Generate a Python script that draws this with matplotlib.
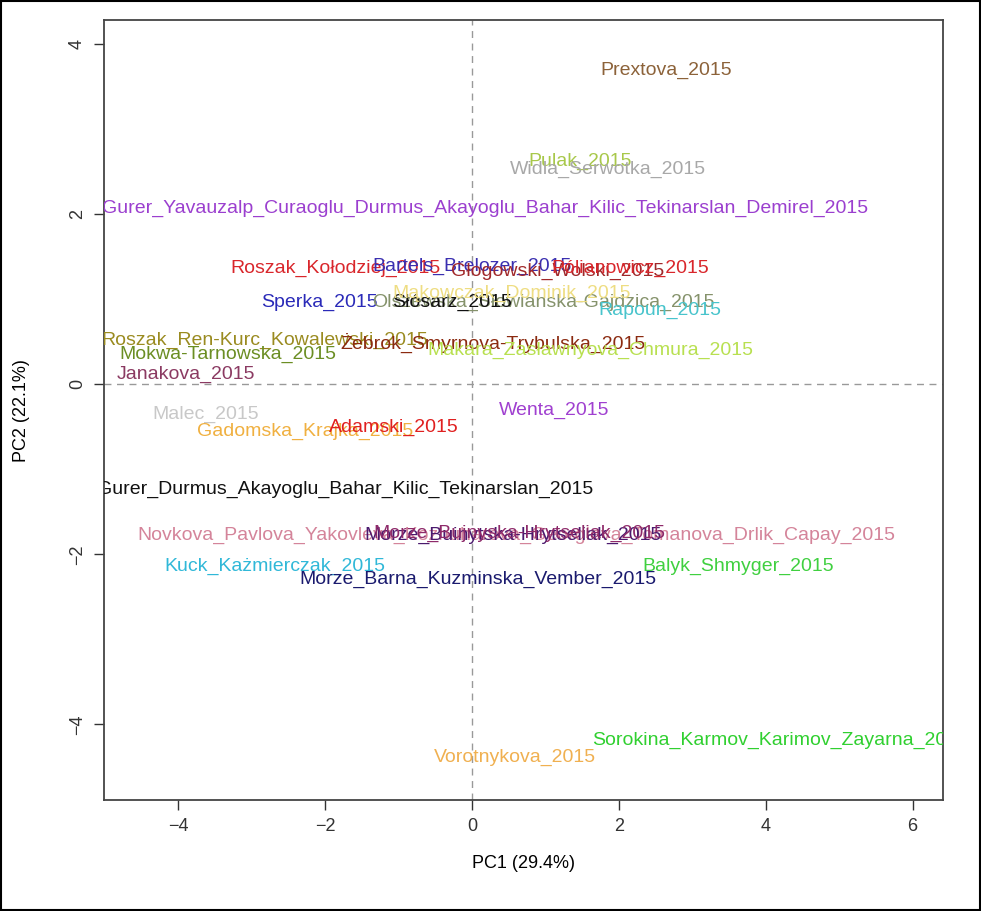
import matplotlib
matplotlib.use("Agg")
import matplotlib.pyplot as plt

plt.rcParams['font.family'] = ['Liberation Sans', 'DejaVu Sans']

# PCA scores (label centres)
labels = [
    "Prextova_2015",
    "Pulak_2015",
    "Widla_Serwotka_2015",
    "Gurer_Yavauzalp_Curaoglu_Durmus_Akayoglu_Bahar_Kilic_Tekinarslan_Demirel_2015",
    "Roszak_Kołodziej_2015",
    "Bartels_Brelozer_2015",
    "Głogowski_Wolski_2015",
    "Pólianowicz_2015",
    "Sperka_2015",
    "Olszewska_Słowianska-Gajdzica_2015",
    "Słósarz_2015",
    "Mąkowczak_Dominik_2015",
    "Rapoun_2015",
    "Roszak_Ren-Kurc_Kowalewski_2015",
    "Mokwa-Tarnowska_2015",
    "Żebrok_Smyrnova-Trybulska_2015",
    "Makara_Zasławnyova_Chmura_2015",
    "Janakova_2015",
    "Malec_2015",
    "Gadomska_Krajka_2015",
    "Adamski_2015",
    "Wenta_2015",
    "Gurer_Durmus_Akayoglu_Bahar_Kilic_Tekinarslan_2015",
    "Novkova_Pavlova_Yakovleva_Kozhuharova_Georgieva_Tomanova_Drlik_Capay_2015",
    "Morze_Buinytska-Hrytseliak_2015",
    "Morze_Bujnyska-Hrytseliak_2015",
    "Kuck_Każmierczak_2015",
    "Morze_Barna_Kuzminska_Vember_2015",
    "Balyk_Shmyger_2015",
    "Vorotnykova_2015",
    "Sorokina_Karmov_Karimov_Zayarna_2015",
]
pc1 = [2.65, 1.47, 1.85, 0.18, -1.86, 0.00, 1.16, 2.15, -2.08, 0.97, -0.27, 0.54,
       2.56, -2.82, -3.32, 0.29, 1.61, -3.89, -3.62, -2.27, -1.06, 1.12, -1.73,
       0.61, 0.56, 0.65, -2.68, 0.08, 3.62, 0.59, 4.19]
pc2 = [3.69, 2.62, 2.53, 2.07, 1.36, 1.39, 1.33, 1.36, 0.96, 0.96, 0.96, 1.07,
       0.87, 0.51, 0.35, 0.49, 0.40, 0.12, -0.35, -0.55, -0.51, -0.31, -1.24,
       -1.78, -1.78, -1.75, -2.14, -2.29, -2.14, -4.39, -4.19]
colors = ["#8c6239", "#a8c84a", "#a8a8a8", "#9b3fcf", "#d9262b", "#3a2fb0",
          "#a0282a", "#d9262b", "#2a2ab8", "#85926b", "#111111", "#eedd82",
          "#48c4cc", "#9a8b20", "#6b8e23", "#8b2a10", "#b8e050", "#8b3a62",
          "#c8c8c8", "#f0b040", "#e02020", "#a040d0", "#111111", "#d4849a",
          "#4b1a6e", "#8e2a6a", "#30b8d8", "#1a1a6e", "#40d040", "#f0b050",
          "#30d030"]

fig = plt.figure(figsize=(9.81, 9.11), dpi=100)
ax = fig.add_axes([0.106, 0.1218, 0.855, 0.856])

ax.set_xlim(-5.01, 6.41)
ax.set_ylim(-4.89, 4.28)
ax.axvline(0, color="#999999", ls=(0, (5, 4)), lw=1)
ax.axhline(0, color="#999999", ls=(0, (5, 4)), lw=1)

for lab, x, y, c in zip(labels, pc1, pc2, colors):
    ax.text(x, y, lab, color=c, fontsize=14, ha="center", va="center", clip_on=True)

ax.set_xticks([-4, -2, 0, 2, 4, 6])
ax.set_yticks([-4, -2, 0, 2, 4])
ax.tick_params(direction="out", length=7, width=1, colors="#333333", labelsize=13, pad=6)
for t in ax.get_yticklabels():
    t.set_rotation(90)
    t.set_va("center")
for s in ax.spines.values():
    s.set_color("#444444")
    s.set_linewidth(1.3)

ax.set_xlabel("PC1 (29.4%)", fontsize=13, labelpad=14)
ax.set_ylabel("PC2 (22.1%)", fontsize=13, labelpad=28)

# outer border of the whole image
fig.patches.append(plt.Rectangle((0.001, 0.001), 0.998, 0.998, transform=fig.transFigure,
                                 fill=False, edgecolor="black", lw=1.5))

fig.savefig("out.png", dpi=100)
